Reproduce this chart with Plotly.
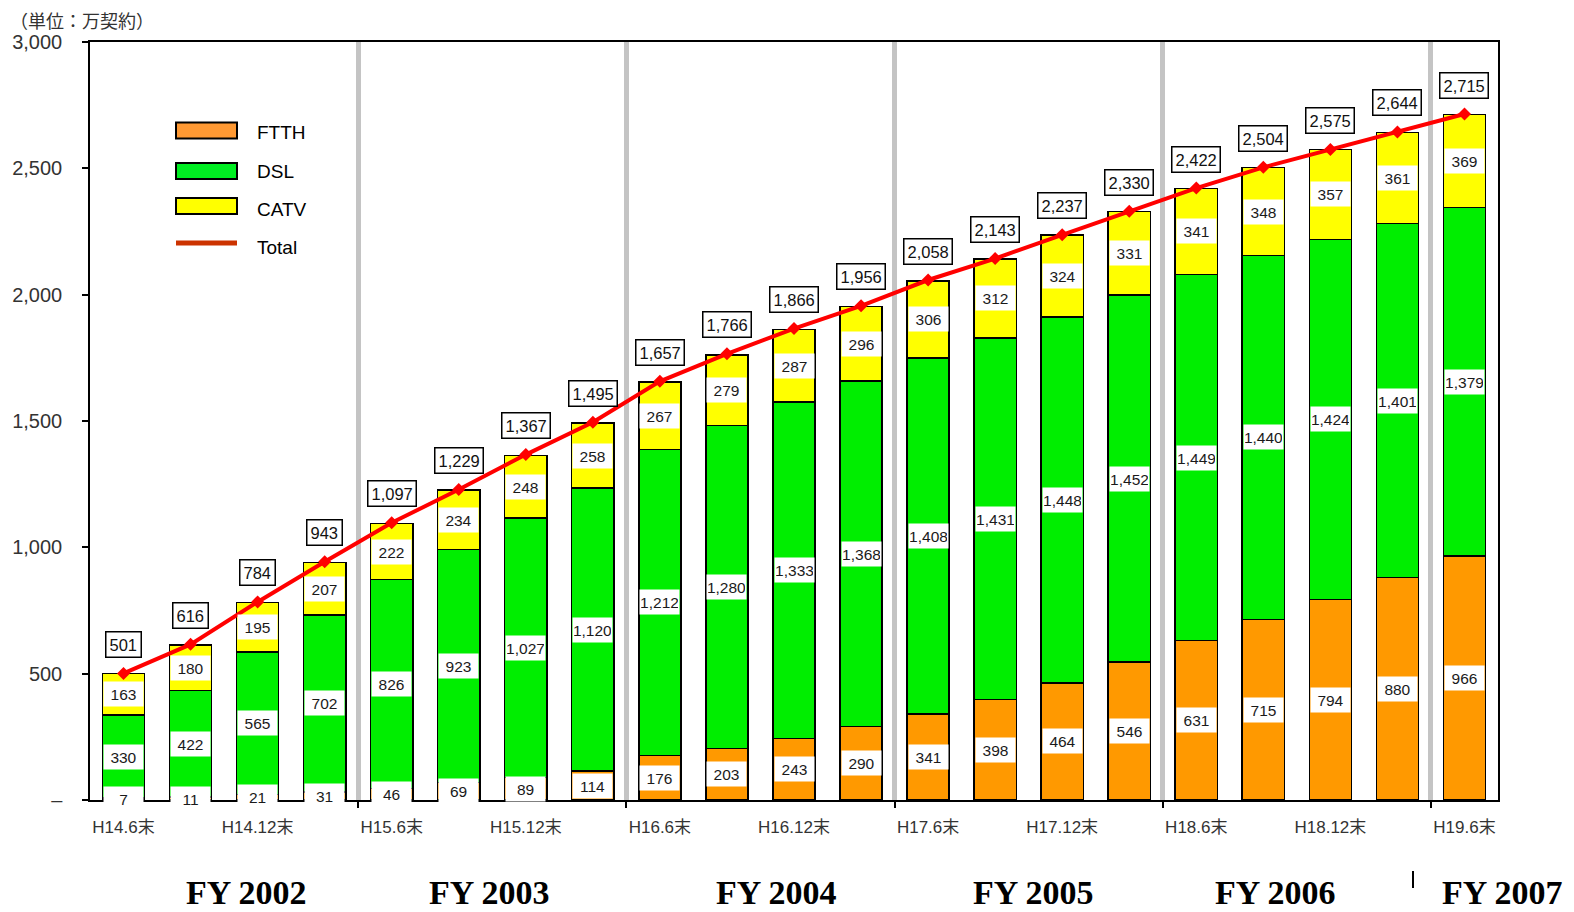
import plotly.graph_objects as go

periods = ["H14.6末", "H14.9末", "H14.12末", "H15.3末", "H15.6末", "H15.9末", "H15.12末",
           "H16.3末", "H16.6末", "H16.9末", "H16.12末", "H17.3末", "H17.6末", "H17.9末",
           "H17.12末", "H18.3末", "H18.6末", "H18.9末", "H18.12末", "H19.3末", "H19.6末"]
ftth = [7, 11, 21, 31, 46, 69, 89, 114, 176, 203, 243, 290, 341, 398, 464, 546, 631, 715, 794, 880, 966]
dsl = [330, 422, 565, 702, 826, 923, 1027, 1120, 1212, 1280, 1333, 1368, 1408, 1431, 1448, 1452,
       1449, 1440, 1424, 1401, 1379]
catv = [163, 180, 195, 207, 222, 234, 248, 258, 267, 279, 287, 296, 306, 312, 324, 331, 341, 348,
        357, 361, 369]
total = [501, 616, 784, 943, 1097, 1229, 1367, 1495, 1657, 1766, 1866, 1956, 2058, 2143, 2237, 2330,
         2422, 2504, 2575, 2644, 2715]
label_idx = [0, 2, 4, 6, 8, 10, 12, 14, 16, 18, 20]
fy_labels = ["FY 2002", "FY 2003", "FY 2004", "FY 2005", "FY 2006", "FY 2007"]
fy_screen_x = [246, 489, 776, 1033, 1275, 1502]
separators = [3.5, 7.5, 11.5, 15.5, 19.5]
y_ticks = [0, 500, 1000, 1500, 2000, 2500, 3000]
y_ticktext = ["–", "500", "1,000", "1,500", "2,000", "2,500", "3,000"]

x = list(range(len(periods)))
OFF = 8  # page body margin
W, H = 1574 - OFF, 912 - OFF
L, T = 90 - OFF, 42 - OFF
R, B = W - (1498 - OFF), H - (800 - OFF)
PW, PH = W - L - R, H - T - B

def px(xp):
    return (xp - OFF - L) / PW

def py(yp):
    return (T + PH - (yp - OFF)) / PH

fig = go.Figure()
bar_line = dict(color="black", width=1.5)
fig.add_trace(go.Bar(x=x, y=ftth, name="FTTH", marker=dict(color="#ff9900", line=bar_line), width=0.63))
fig.add_trace(go.Bar(x=x, y=dsl, name="DSL", marker=dict(color="#00ee00", line=bar_line), width=0.63))
fig.add_trace(go.Bar(x=x, y=catv, name="CATV", marker=dict(color="#ffff00", line=bar_line), width=0.63))
fig.add_trace(go.Scatter(x=x, y=total, name="Total", mode="lines+markers",
                         line=dict(color="#ff0000", width=4),
                         marker=dict(symbol="diamond", size=10, color="#ff0000")))

ann = []
seg_font = dict(family="Liberation Sans, Arial, sans-serif", size=15.5, color="#1a1a1a")
for i in x:
    bases = [0, ftth[i], ftth[i] + dsl[i]]
    for base, v in zip(bases, [ftth[i], dsl[i], catv[i]]):
        ann.append(dict(x=i, y=base + v / 2, text=f"{v:,}", showarrow=False, bgcolor="white",
                        width=37, height=22, font=seg_font, xref="x", yref="y",
                        xanchor="center", yanchor="middle"))
    ann.append(dict(x=i, y=total[i], yshift=29, text=f"{total[i]:,}", showarrow=False,
                    bgcolor="white", bordercolor="black", borderwidth=1.5, borderpad=3,
                    font=dict(family="Liberation Sans, Arial, sans-serif", size=16.5, color="#111111"),
                    xref="x", yref="y", xanchor="center", yanchor="middle"))

for t, sx in zip(fy_labels, fy_screen_x):
    ann.append(dict(x=px(sx), y=py(892), xref="paper", yref="paper", text=f"<b>{t}</b>", showarrow=False,
                    xanchor="center", yanchor="middle",
                    font=dict(family="Liberation Serif, Times New Roman, serif", size=34, color="black")))

ann.append(dict(x=px(8), y=py(20), xref="paper", yref="paper", xanchor="left", yanchor="middle",
                text="（単位：万契約）", showarrow=False,
                font=dict(family="Noto Sans CJK JP", size=18, color="#333333")))

# custom legend
leg_items = [("FTTH", "#ff9933", 130.5, 132), ("DSL", "#00ee22", 171, 172), ("CATV", "#ffff00", 206, 209)]
shapes = []
for name, col, yc, yt in leg_items:
    shapes.append(dict(type="rect", xref="paper", yref="paper", x0=px(176), x1=px(237),
                       y0=py(yc + 8), y1=py(yc - 8), fillcolor=col, line=dict(color="black", width=2)))
    ann.append(dict(x=px(255), y=py(yt), xref="paper", yref="paper", xanchor="left", yanchor="middle",
                    text=name, showarrow=False,
                    font=dict(family="Liberation Sans, Arial, sans-serif", size=19, color="black")))
shapes.append(dict(type="line", xref="paper", yref="paper", x0=px(176), x1=px(237), y0=py(243), y1=py(243),
                   line=dict(color="#cc3300", width=5)))
ann.append(dict(x=px(255), y=py(248), xref="paper", yref="paper", xanchor="left", yanchor="middle",
                text="Total", showarrow=False,
                font=dict(family="Liberation Sans, Arial, sans-serif", size=19, color="black")))
shapes.append(dict(type="line", xref="paper", yref="paper", x0=px(1413), x1=px(1413), y0=py(871), y1=py(888),
                   line=dict(color="black", width=2)))

fig.update_layout(
    barmode="stack", width=W, height=H, margin=dict(l=L, r=R, t=T, b=B, autoexpand=False),
    plot_bgcolor="white", paper_bgcolor="white", showlegend=False,
    annotations=ann, shapes=shapes,
    font=dict(family="Liberation Sans, Arial, Noto Sans CJK JP, sans-serif"),
)
fig.update_xaxes(range=[-0.5, 20.5], tickmode="array", tickvals=label_idx, automargin=False,
                 ticktext=[periods[i] for i in label_idx], ticks="", showgrid=False,
                 tickfont=dict(size=17, color="#333333", family="Liberation Sans, Arial, Noto Sans CJK JP, sans-serif"),
                 ticklabelstandoff=11,
                 showline=True, linecolor="black", linewidth=1.5, mirror=True, zeroline=False,
                 minor=dict(tickmode="array", tickvals=separators, ticks="outside", ticklen=6,
                            tickcolor="black", tickwidth=1.5, showgrid=True, gridcolor="#c4c4c4", gridwidth=5))
fig.update_yaxes(range=[0, 3000], tickmode="array", tickvals=y_ticks, ticktext=y_ticktext, automargin=False,
                 ticks="outside", ticklen=6, tickcolor="black", tickwidth=1.5, showgrid=False,
                 tickfont=dict(size=20, color="#333333"), ticklabelstandoff=16,
                 showline=True, linecolor="black", linewidth=1.5, mirror=True, zeroline=False)

fig.write_html("out.html")
